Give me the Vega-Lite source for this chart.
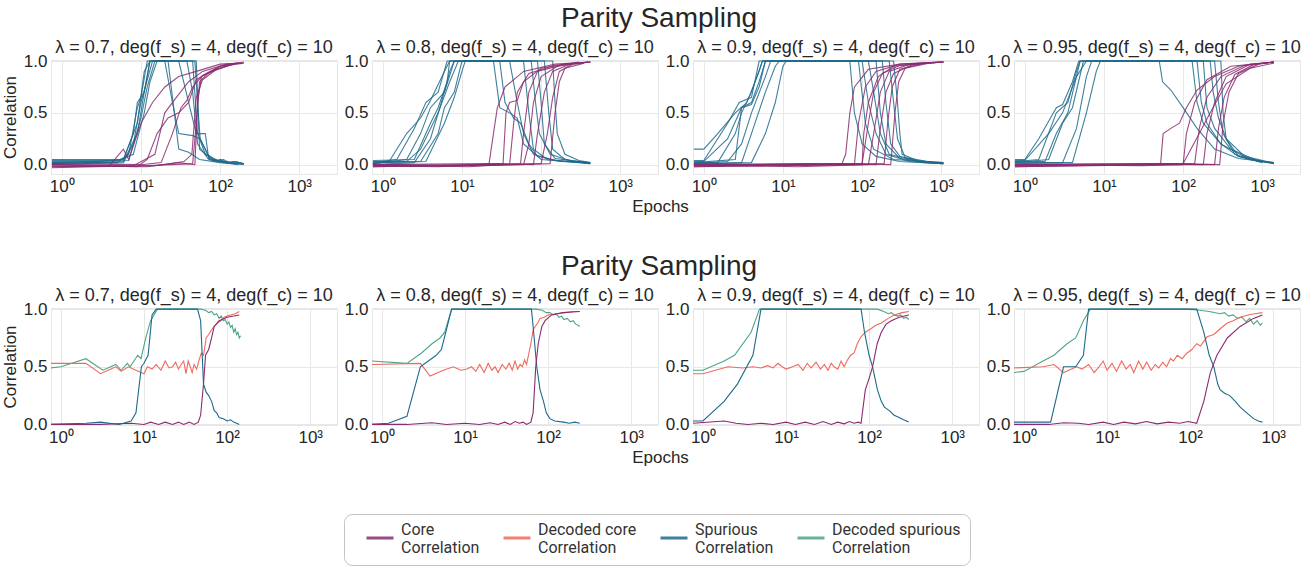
{
"$schema": "https://vega.github.io/schema/vega-lite/v6.json",
"padding": {"left": 0, "top": 4, "right": 5, "bottom": 0},
"background": "white",
"datasets": {
"t07": [
{"s":"Spurious","r":1,"x":0.75,"y":0.03},{"s":"Spurious","r":1,"x":3,"y":0.03},{"s":"Spurious","r":1,"x":6,"y":0.05},{"s":"Spurious","r":1,"x":8,"y":0.3},{"s":"Spurious","r":1,"x":9,"y":0.6},{"s":"Spurious","r":1,"x":11,"y":0.7},{"s":"Spurious","r":1,"x":13,"y":1.0},{"s":"Spurious","r":1,"x":45,"y":1.0},{"s":"Spurious","r":1,"x":52,"y":0.3},{"s":"Spurious","r":1,"x":60,"y":0.2},{"s":"Spurious","r":1,"x":75,"y":0.05},{"s":"Spurious","r":1,"x":90,"y":0.03},{"s":"Spurious","r":1,"x":100,"y":0.05},{"s":"Spurious","r":1,"x":120,"y":0.02},{"s":"Spurious","r":1,"x":150,"y":0.03},{"s":"Spurious","r":1,"x":200,"y":0.01},
{"s":"Spurious","r":2,"x":0.75,"y":0.02},{"s":"Spurious","r":2,"x":5,"y":0.02},{"s":"Spurious","r":2,"x":7,"y":0.1},{"s":"Spurious","r":2,"x":9,"y":0.55},{"s":"Spurious","r":2,"x":10,"y":0.65},{"s":"Spurious","r":2,"x":12,"y":1.0},{"s":"Spurious","r":2,"x":48,"y":1.0},{"s":"Spurious","r":2,"x":53,"y":0.5},{"s":"Spurious","r":2,"x":56,"y":0.25},{"s":"Spurious","r":2,"x":70,"y":0.1},{"s":"Spurious","r":2,"x":80,"y":0.06},{"s":"Spurious","r":2,"x":90,"y":0.04},{"s":"Spurious","r":2,"x":110,"y":0.05},{"s":"Spurious","r":2,"x":130,"y":0.02},{"s":"Spurious","r":2,"x":160,"y":0.03},{"s":"Spurious","r":2,"x":190,"y":0.01},
{"s":"Spurious","r":3,"x":0.75,"y":0.0},{"s":"Spurious","r":3,"x":6,"y":0.02},{"s":"Spurious","r":3,"x":8,"y":0.2},{"s":"Spurious","r":3,"x":10,"y":0.6},{"s":"Spurious","r":3,"x":14,"y":1.0},{"s":"Spurious","r":3,"x":20,"y":1.0},{"s":"Spurious","r":3,"x":25,"y":0.6},{"s":"Spurious","r":3,"x":30,"y":0.3},{"s":"Spurious","r":3,"x":45,"y":0.28},{"s":"Spurious","r":3,"x":55,"y":0.25},{"s":"Spurious","r":3,"x":65,"y":0.1},{"s":"Spurious","r":3,"x":100,"y":0.03},{"s":"Spurious","r":3,"x":180,"y":0.01},
{"s":"Spurious","r":4,"x":0.75,"y":0.04},{"s":"Spurious","r":4,"x":5,"y":0.04},{"s":"Spurious","r":4,"x":8,"y":0.1},{"s":"Spurious","r":4,"x":11,"y":0.5},{"s":"Spurious","r":4,"x":13,"y":0.8},{"s":"Spurious","r":4,"x":16,"y":1.0},{"s":"Spurious","r":4,"x":38,"y":1.0},{"s":"Spurious","r":4,"x":45,"y":0.7},{"s":"Spurious","r":4,"x":52,"y":0.2},{"s":"Spurious","r":4,"x":70,"y":0.06},{"s":"Spurious","r":4,"x":120,"y":0.02},{"s":"Spurious","r":4,"x":200,"y":0.0},
{"s":"Spurious","r":5,"x":0.75,"y":0.01},{"s":"Spurious","r":5,"x":6,"y":0.03},{"s":"Spurious","r":5,"x":9,"y":0.3},{"s":"Spurious","r":5,"x":11,"y":0.7},{"s":"Spurious","r":5,"x":13,"y":1.0},{"s":"Spurious","r":5,"x":22,"y":1.0},{"s":"Spurious","r":5,"x":30,"y":0.15},{"s":"Spurious","r":5,"x":40,"y":0.12},{"s":"Spurious","r":5,"x":55,"y":0.05},{"s":"Spurious","r":5,"x":100,"y":0.02},{"s":"Spurious","r":5,"x":160,"y":0.01},
{"s":"Spurious","r":6,"x":0.75,"y":0.02},{"s":"Spurious","r":6,"x":7,"y":0.04},{"s":"Spurious","r":6,"x":10,"y":0.45},{"s":"Spurious","r":6,"x":12,"y":0.75},{"s":"Spurious","r":6,"x":15,"y":1.0},{"s":"Spurious","r":6,"x":30,"y":1.0},{"s":"Spurious","r":6,"x":40,"y":0.6},{"s":"Spurious","r":6,"x":50,"y":0.3},{"s":"Spurious","r":6,"x":65,"y":0.3},{"s":"Spurious","r":6,"x":72,"y":0.05},{"s":"Spurious","r":6,"x":110,"y":0.02},{"s":"Spurious","r":6,"x":170,"y":0.0},
{"s":"Spurious","r":7,"x":0.75,"y":0.05},{"s":"Spurious","r":7,"x":6,"y":0.05},{"s":"Spurious","r":7,"x":9,"y":0.4},{"s":"Spurious","r":7,"x":11,"y":0.9},{"s":"Spurious","r":7,"x":13,"y":1.0},{"s":"Spurious","r":7,"x":50,"y":1.0},{"s":"Spurious","r":7,"x":55,"y":0.15},{"s":"Spurious","r":7,"x":80,"y":0.05},{"s":"Spurious","r":7,"x":140,"y":0.02},{"s":"Spurious","r":7,"x":200,"y":0.01},
{"s":"Core","r":1,"x":0.75,"y":-0.02},{"s":"Core","r":1,"x":4,"y":-0.01},{"s":"Core","r":1,"x":6,"y":0.15},{"s":"Core","r":1,"x":7,"y":0.05},{"s":"Core","r":1,"x":10,"y":0.4},{"s":"Core","r":1,"x":14,"y":0.6},{"s":"Core","r":1,"x":20,"y":0.75},{"s":"Core","r":1,"x":30,"y":0.85},{"s":"Core","r":1,"x":50,"y":0.9},{"s":"Core","r":1,"x":100,"y":0.97},{"s":"Core","r":1,"x":190,"y":0.98},
{"s":"Core","r":2,"x":0.75,"y":0.0},{"s":"Core","r":2,"x":8,"y":-0.01},{"s":"Core","r":2,"x":15,"y":0.1},{"s":"Core","r":2,"x":20,"y":0.5},{"s":"Core","r":2,"x":28,"y":0.65},{"s":"Core","r":2,"x":40,"y":0.8},{"s":"Core","r":2,"x":60,"y":0.9},{"s":"Core","r":2,"x":120,"y":0.97},{"s":"Core","r":2,"x":180,"y":0.98},
{"s":"Core","r":3,"x":0.75,"y":-0.03},{"s":"Core","r":3,"x":10,"y":-0.01},{"s":"Core","r":3,"x":25,"y":0.0},{"s":"Core","r":3,"x":45,"y":0.01},{"s":"Core","r":3,"x":50,"y":0.4},{"s":"Core","r":3,"x":55,"y":0.8},{"s":"Core","r":3,"x":70,"y":0.88},{"s":"Core","r":3,"x":100,"y":0.95},{"s":"Core","r":3,"x":170,"y":0.98},
{"s":"Core","r":4,"x":0.75,"y":-0.01},{"s":"Core","r":4,"x":12,"y":-0.02},{"s":"Core","r":4,"x":30,"y":0.02},{"s":"Core","r":4,"x":48,"y":0.0},{"s":"Core","r":4,"x":52,"y":0.6},{"s":"Core","r":4,"x":58,"y":0.85},{"s":"Core","r":4,"x":80,"y":0.9},{"s":"Core","r":4,"x":130,"y":0.96},{"s":"Core","r":4,"x":200,"y":0.98},
{"s":"Core","r":5,"x":0.75,"y":0.01},{"s":"Core","r":5,"x":10,"y":0.0},{"s":"Core","r":5,"x":18,"y":0.02},{"s":"Core","r":5,"x":25,"y":0.3},{"s":"Core","r":5,"x":32,"y":0.55},{"s":"Core","r":5,"x":38,"y":0.62},{"s":"Core","r":5,"x":45,"y":0.75},{"s":"Core","r":5,"x":60,"y":0.86},{"s":"Core","r":5,"x":100,"y":0.95},{"s":"Core","r":5,"x":160,"y":0.98},
{"s":"Core","r":6,"x":0.75,"y":-0.02},{"s":"Core","r":6,"x":15,"y":-0.01},{"s":"Core","r":6,"x":35,"y":0.03},{"s":"Core","r":6,"x":44,"y":0.1},{"s":"Core","r":6,"x":50,"y":0.65},{"s":"Core","r":6,"x":60,"y":0.82},{"s":"Core","r":6,"x":90,"y":0.92},{"s":"Core","r":6,"x":150,"y":0.97},
{"s":"Core","r":7,"x":0.75,"y":0.0},{"s":"Core","r":7,"x":9,"y":-0.02},{"s":"Core","r":7,"x":12,"y":0.05},{"s":"Core","r":7,"x":16,"y":0.3},{"s":"Core","r":7,"x":22,"y":0.45},{"s":"Core","r":7,"x":30,"y":0.5},{"s":"Core","r":7,"x":40,"y":0.6},{"s":"Core","r":7,"x":50,"y":0.82},{"s":"Core","r":7,"x":75,"y":0.9},{"s":"Core","r":7,"x":140,"y":0.97},{"s":"Core","r":7,"x":200,"y":0.99}
],
"t08": [
{"s":"Spurious","r":1,"x":0.75,"y":0.02},{"s":"Spurious","r":1,"x":1.5,"y":0.05},{"s":"Spurious","r":1,"x":2.5,"y":0.35},{"s":"Spurious","r":1,"x":3.5,"y":0.6},{"s":"Spurious","r":1,"x":5,"y":0.7},{"s":"Spurious","r":1,"x":6.5,"y":1.0},{"s":"Spurious","r":1,"x":25,"y":1.0},{"s":"Spurious","r":1,"x":30,"y":0.55},{"s":"Spurious","r":1,"x":40,"y":0.5},{"s":"Spurious","r":1,"x":50,"y":0.45},{"s":"Spurious","r":1,"x":60,"y":0.2},{"s":"Spurious","r":1,"x":100,"y":0.05},{"s":"Spurious","r":1,"x":200,"y":0.03},{"s":"Spurious","r":1,"x":420,"y":0.02},
{"s":"Spurious","r":2,"x":0.75,"y":0.01},{"s":"Spurious","r":2,"x":2,"y":0.05},{"s":"Spurious","r":2,"x":3,"y":0.3},{"s":"Spurious","r":2,"x":4,"y":0.55},{"s":"Spurious","r":2,"x":6,"y":0.7},{"s":"Spurious","r":2,"x":8,"y":1.0},{"s":"Spurious","r":2,"x":60,"y":1.0},{"s":"Spurious","r":2,"x":70,"y":0.5},{"s":"Spurious","r":2,"x":80,"y":0.15},{"s":"Spurious","r":2,"x":120,"y":0.05},{"s":"Spurious","r":2,"x":300,"y":0.02},{"s":"Spurious","r":2,"x":420,"y":0.01},
{"s":"Spurious","r":3,"x":0.75,"y":0.03},{"s":"Spurious","r":3,"x":2,"y":0.03},{"s":"Spurious","r":3,"x":3,"y":0.15},{"s":"Spurious","r":3,"x":5,"y":0.5},{"s":"Spurious","r":3,"x":7,"y":0.8},{"s":"Spurious","r":3,"x":9,"y":1.0},{"s":"Spurious","r":3,"x":90,"y":1.0},{"s":"Spurious","r":3,"x":100,"y":0.6},{"s":"Spurious","r":3,"x":110,"y":0.2},{"s":"Spurious","r":3,"x":150,"y":0.06},{"s":"Spurious","r":3,"x":400,"y":0.02},
{"s":"Spurious","r":4,"x":0.75,"y":0.0},{"s":"Spurious","r":4,"x":2.5,"y":0.02},{"s":"Spurious","r":4,"x":4,"y":0.25},{"s":"Spurious","r":4,"x":5.5,"y":0.6},{"s":"Spurious","r":4,"x":7,"y":0.9},{"s":"Spurious","r":4,"x":8,"y":1.0},{"s":"Spurious","r":4,"x":110,"y":1.0},{"s":"Spurious","r":4,"x":125,"y":0.5},{"s":"Spurious","r":4,"x":140,"y":0.15},{"s":"Spurious","r":4,"x":200,"y":0.05},{"s":"Spurious","r":4,"x":420,"y":0.01},
{"s":"Spurious","r":5,"x":0.75,"y":0.02},{"s":"Spurious","r":5,"x":3,"y":0.03},{"s":"Spurious","r":5,"x":5,"y":0.3},{"s":"Spurious","r":5,"x":6,"y":0.55},{"s":"Spurious","r":5,"x":8,"y":0.7},{"s":"Spurious","r":5,"x":10,"y":1.0},{"s":"Spurious","r":5,"x":40,"y":1.0},{"s":"Spurious","r":5,"x":50,"y":0.6},{"s":"Spurious","r":5,"x":60,"y":0.3},{"s":"Spurious","r":5,"x":80,"y":0.1},{"s":"Spurious","r":5,"x":150,"y":0.04},{"s":"Spurious","r":5,"x":400,"y":0.02},
{"s":"Spurious","r":6,"x":0.75,"y":0.01},{"s":"Spurious","r":6,"x":1.2,"y":0.03},{"s":"Spurious","r":6,"x":2,"y":0.3},{"s":"Spurious","r":6,"x":3,"y":0.45},{"s":"Spurious","r":6,"x":4,"y":0.62},{"s":"Spurious","r":6,"x":6,"y":0.9},{"s":"Spurious","r":6,"x":7,"y":1.0},{"s":"Spurious","r":6,"x":140,"y":1.0},{"s":"Spurious","r":6,"x":150,"y":0.6},{"s":"Spurious","r":6,"x":160,"y":0.3},{"s":"Spurious","r":6,"x":200,"y":0.1},{"s":"Spurious","r":6,"x":300,"y":0.04},{"s":"Spurious","r":6,"x":420,"y":0.02},
{"s":"Spurious","r":7,"x":0.75,"y":0.02},{"s":"Spurious","r":7,"x":3.5,"y":0.03},{"s":"Spurious","r":7,"x":6,"y":0.4},{"s":"Spurious","r":7,"x":8,"y":0.65},{"s":"Spurious","r":7,"x":10,"y":0.9},{"s":"Spurious","r":7,"x":11,"y":1.0},{"s":"Spurious","r":7,"x":75,"y":1.0},{"s":"Spurious","r":7,"x":85,"y":0.6},{"s":"Spurious","r":7,"x":95,"y":0.3},{"s":"Spurious","r":7,"x":130,"y":0.1},{"s":"Spurious","r":7,"x":250,"y":0.03},{"s":"Spurious","r":7,"x":400,"y":0.01},
{"s":"Spurious","r":8,"x":0.75,"y":0.04},{"s":"Spurious","r":8,"x":2.5,"y":0.05},{"s":"Spurious","r":8,"x":4,"y":0.4},{"s":"Spurious","r":8,"x":5,"y":0.55},{"s":"Spurious","r":8,"x":6.5,"y":0.8},{"s":"Spurious","r":8,"x":7,"y":1.0},{"s":"Spurious","r":8,"x":30,"y":1.0},{"s":"Spurious","r":8,"x":35,"y":0.6},{"s":"Spurious","r":8,"x":45,"y":0.45},{"s":"Spurious","r":8,"x":55,"y":0.4},{"s":"Spurious","r":8,"x":70,"y":0.2},{"s":"Spurious","r":8,"x":90,"y":0.08},{"s":"Spurious","r":8,"x":180,"y":0.03},{"s":"Spurious","r":8,"x":380,"y":0.02},
{"s":"Core","r":1,"x":0.75,"y":-0.01},{"s":"Core","r":1,"x":5,"y":-0.02},{"s":"Core","r":1,"x":15,"y":0.0},{"s":"Core","r":1,"x":22,"y":0.01},{"s":"Core","r":1,"x":25,"y":0.3},{"s":"Core","r":1,"x":28,"y":0.55},{"s":"Core","r":1,"x":35,"y":0.75},{"s":"Core","r":1,"x":60,"y":0.9},{"s":"Core","r":1,"x":150,"y":0.97},{"s":"Core","r":1,"x":420,"y":0.99},
{"s":"Core","r":2,"x":0.75,"y":0.0},{"s":"Core","r":2,"x":10,"y":-0.01},{"s":"Core","r":2,"x":30,"y":0.01},{"s":"Core","r":2,"x":40,"y":0.0},{"s":"Core","r":2,"x":45,"y":0.4},{"s":"Core","r":2,"x":50,"y":0.7},{"s":"Core","r":2,"x":70,"y":0.88},{"s":"Core","r":2,"x":150,"y":0.96},{"s":"Core","r":2,"x":400,"y":0.99},
{"s":"Core","r":3,"x":0.75,"y":-0.02},{"s":"Core","r":3,"x":20,"y":0.0},{"s":"Core","r":3,"x":55,"y":0.01},{"s":"Core","r":3,"x":60,"y":0.3},{"s":"Core","r":3,"x":70,"y":0.7},{"s":"Core","r":3,"x":90,"y":0.9},{"s":"Core","r":3,"x":200,"y":0.97},{"s":"Core","r":3,"x":420,"y":0.99},
{"s":"Core","r":4,"x":0.75,"y":-0.01},{"s":"Core","r":4,"x":15,"y":-0.01},{"s":"Core","r":4,"x":60,"y":0.0},{"s":"Core","r":4,"x":70,"y":0.2},{"s":"Core","r":4,"x":80,"y":0.6},{"s":"Core","r":4,"x":100,"y":0.85},{"s":"Core","r":4,"x":160,"y":0.95},{"s":"Core","r":4,"x":400,"y":0.99},
{"s":"Core","r":5,"x":0.75,"y":0.0},{"s":"Core","r":5,"x":25,"y":0.01},{"s":"Core","r":5,"x":80,"y":0.0},{"s":"Core","r":5,"x":90,"y":0.3},{"s":"Core","r":5,"x":110,"y":0.7},{"s":"Core","r":5,"x":140,"y":0.9},{"s":"Core","r":5,"x":250,"y":0.98},
{"s":"Core","r":6,"x":0.75,"y":-0.01},{"s":"Core","r":6,"x":30,"y":0.0},{"s":"Core","r":6,"x":100,"y":0.01},{"s":"Core","r":6,"x":120,"y":0.3},{"s":"Core","r":6,"x":140,"y":0.65},{"s":"Core","r":6,"x":170,"y":0.9},{"s":"Core","r":6,"x":250,"y":0.97},{"s":"Core","r":6,"x":420,"y":0.99},
{"s":"Core","r":7,"x":0.75,"y":0.0},{"s":"Core","r":7,"x":12,"y":-0.02},{"s":"Core","r":7,"x":33,"y":0.0},{"s":"Core","r":7,"x":36,"y":0.5},{"s":"Core","r":7,"x":40,"y":0.6},{"s":"Core","r":7,"x":50,"y":0.62},{"s":"Core","r":7,"x":60,"y":0.8},{"s":"Core","r":7,"x":100,"y":0.93},{"s":"Core","r":7,"x":300,"y":0.99},
{"s":"Core","r":8,"x":0.75,"y":-0.02},{"s":"Core","r":8,"x":40,"y":0.0},{"s":"Core","r":8,"x":130,"y":0.01},{"s":"Core","r":8,"x":150,"y":0.5},{"s":"Core","r":8,"x":170,"y":0.8},{"s":"Core","r":8,"x":200,"y":0.93},{"s":"Core","r":8,"x":350,"y":0.98}
],
"t09": [
{"s":"Spurious","r":1,"x":0.75,"y":0.15},{"s":"Spurious","r":1,"x":1,"y":0.15},{"s":"Spurious","r":1,"x":1.5,"y":0.3},{"s":"Spurious","r":1,"x":2.5,"y":0.5},{"s":"Spurious","r":1,"x":3.5,"y":0.6},{"s":"Spurious","r":1,"x":5,"y":0.9},{"s":"Spurious","r":1,"x":5.5,"y":1.0},{"s":"Spurious","r":1,"x":70,"y":1.0},{"s":"Spurious","r":1,"x":80,"y":0.5},{"s":"Spurious","r":1,"x":100,"y":0.2},{"s":"Spurious","r":1,"x":150,"y":0.08},{"s":"Spurious","r":1,"x":300,"y":0.03},{"s":"Spurious","r":1,"x":1070,"y":0.01},
{"s":"Spurious","r":2,"x":0.75,"y":0.03},{"s":"Spurious","r":2,"x":1,"y":0.03},{"s":"Spurious","r":2,"x":2,"y":0.25},{"s":"Spurious","r":2,"x":3,"y":0.55},{"s":"Spurious","r":2,"x":4,"y":0.6},{"s":"Spurious","r":2,"x":5,"y":0.8},{"s":"Spurious","r":2,"x":6,"y":1.0},{"s":"Spurious","r":2,"x":100,"y":1.0},{"s":"Spurious","r":2,"x":120,"y":0.6},{"s":"Spurious","r":2,"x":150,"y":0.3},{"s":"Spurious","r":2,"x":200,"y":0.1},{"s":"Spurious","r":2,"x":400,"y":0.03},{"s":"Spurious","r":2,"x":1000,"y":0.02},
{"s":"Spurious","r":3,"x":0.75,"y":0.02},{"s":"Spurious","r":3,"x":1.5,"y":0.02},{"s":"Spurious","r":3,"x":2.5,"y":0.3},{"s":"Spurious","r":3,"x":3,"y":0.5},{"s":"Spurious","r":3,"x":4,"y":0.7},{"s":"Spurious","r":3,"x":5.5,"y":1.0},{"s":"Spurious","r":3,"x":150,"y":1.0},{"s":"Spurious","r":3,"x":170,"y":0.5},{"s":"Spurious","r":3,"x":200,"y":0.2},{"s":"Spurious","r":3,"x":300,"y":0.06},{"s":"Spurious","r":3,"x":700,"y":0.02},{"s":"Spurious","r":3,"x":1070,"y":0.01},
{"s":"Spurious","r":4,"x":0.75,"y":0.01},{"s":"Spurious","r":4,"x":2,"y":0.03},{"s":"Spurious","r":4,"x":3,"y":0.2},{"s":"Spurious","r":4,"x":4,"y":0.5},{"s":"Spurious","r":4,"x":6,"y":0.85},{"s":"Spurious","r":4,"x":7,"y":1.0},{"s":"Spurious","r":4,"x":180,"y":1.0},{"s":"Spurious","r":4,"x":200,"y":0.6},{"s":"Spurious","r":4,"x":230,"y":0.2},{"s":"Spurious","r":4,"x":300,"y":0.08},{"s":"Spurious","r":4,"x":600,"y":0.02},{"s":"Spurious","r":4,"x":1050,"y":0.01},
{"s":"Spurious","r":5,"x":0.75,"y":0.04},{"s":"Spurious","r":5,"x":1,"y":0.04},{"s":"Spurious","r":5,"x":2,"y":0.4},{"s":"Spurious","r":5,"x":2.8,"y":0.6},{"s":"Spurious","r":5,"x":4,"y":0.65},{"s":"Spurious","r":5,"x":5,"y":1.0},{"s":"Spurious","r":5,"x":120,"y":1.0},{"s":"Spurious","r":5,"x":140,"y":0.7},{"s":"Spurious","r":5,"x":170,"y":0.3},{"s":"Spurious","r":5,"x":220,"y":0.1},{"s":"Spurious","r":5,"x":500,"y":0.03},{"s":"Spurious","r":5,"x":1070,"y":0.02},
{"s":"Spurious","r":6,"x":0.75,"y":0.0},{"s":"Spurious","r":6,"x":3,"y":0.02},{"s":"Spurious","r":6,"x":4,"y":0.3},{"s":"Spurious","r":6,"x":6,"y":0.7},{"s":"Spurious","r":6,"x":8,"y":0.95},{"s":"Spurious","r":6,"x":9,"y":1.0},{"s":"Spurious","r":6,"x":220,"y":1.0},{"s":"Spurious","r":6,"x":250,"y":0.6},{"s":"Spurious","r":6,"x":280,"y":0.25},{"s":"Spurious","r":6,"x":350,"y":0.07},{"s":"Spurious","r":6,"x":800,"y":0.02},
{"s":"Spurious","r":7,"x":0.75,"y":0.02},{"s":"Spurious","r":7,"x":2.5,"y":0.05},{"s":"Spurious","r":7,"x":3,"y":0.55},{"s":"Spurious","r":7,"x":4,"y":0.58},{"s":"Spurious","r":7,"x":5,"y":0.75},{"s":"Spurious","r":7,"x":6,"y":1.0},{"s":"Spurious","r":7,"x":250,"y":1.0},{"s":"Spurious","r":7,"x":280,"y":0.6},{"s":"Spurious","r":7,"x":300,"y":0.3},{"s":"Spurious","r":7,"x":320,"y":0.1},{"s":"Spurious","r":7,"x":500,"y":0.04},{"s":"Spurious","r":7,"x":1000,"y":0.01},
{"s":"Spurious","r":8,"x":0.75,"y":0.01},{"s":"Spurious","r":8,"x":4,"y":0.02},{"s":"Spurious","r":8,"x":6,"y":0.3},{"s":"Spurious","r":8,"x":8,"y":0.6},{"s":"Spurious","r":8,"x":10,"y":0.95},{"s":"Spurious","r":8,"x":11,"y":1.0},{"s":"Spurious","r":8,"x":90,"y":1.0},{"s":"Spurious","r":8,"x":110,"y":0.4},{"s":"Spurious","r":8,"x":140,"y":0.15},{"s":"Spurious","r":8,"x":250,"y":0.05},{"s":"Spurious","r":8,"x":1070,"y":0.02},
{"s":"Core","r":1,"x":0.75,"y":-0.02},{"s":"Core","r":1,"x":10,"y":-0.01},{"s":"Core","r":1,"x":55,"y":0.0},{"s":"Core","r":1,"x":62,"y":0.1},{"s":"Core","r":1,"x":70,"y":0.5},{"s":"Core","r":1,"x":80,"y":0.75},{"s":"Core","r":1,"x":120,"y":0.92},{"s":"Core","r":1,"x":300,"y":0.97},{"s":"Core","r":1,"x":1070,"y":0.99},
{"s":"Core","r":2,"x":0.75,"y":0.0},{"s":"Core","r":2,"x":20,"y":0.01},{"s":"Core","r":2,"x":80,"y":0.0},{"s":"Core","r":2,"x":90,"y":0.4},{"s":"Core","r":2,"x":110,"y":0.75},{"s":"Core","r":2,"x":150,"y":0.9},{"s":"Core","r":2,"x":300,"y":0.97},{"s":"Core","r":2,"x":1000,"y":0.99},
{"s":"Core","r":3,"x":0.75,"y":-0.01},{"s":"Core","r":3,"x":30,"y":0.0},{"s":"Core","r":3,"x":100,"y":0.01},{"s":"Core","r":3,"x":120,"y":0.4},{"s":"Core","r":3,"x":140,"y":0.7},{"s":"Core","r":3,"x":180,"y":0.88},{"s":"Core","r":3,"x":300,"y":0.96},{"s":"Core","r":3,"x":1070,"y":0.99},
{"s":"Core","r":4,"x":0.75,"y":0.0},{"s":"Core","r":4,"x":15,"y":-0.02},{"s":"Core","r":4,"x":120,"y":0.0},{"s":"Core","r":4,"x":140,"y":0.3},{"s":"Core","r":4,"x":170,"y":0.7},{"s":"Core","r":4,"x":220,"y":0.9},{"s":"Core","r":4,"x":400,"y":0.97},{"s":"Core","r":4,"x":900,"y":0.99},
{"s":"Core","r":5,"x":0.75,"y":-0.02},{"s":"Core","r":5,"x":40,"y":0.01},{"s":"Core","r":5,"x":150,"y":0.0},{"s":"Core","r":5,"x":170,"y":0.35},{"s":"Core","r":5,"x":200,"y":0.7},{"s":"Core","r":5,"x":250,"y":0.88},{"s":"Core","r":5,"x":450,"y":0.97},{"s":"Core","r":5,"x":1070,"y":0.99},
{"s":"Core","r":6,"x":0.75,"y":0.0},{"s":"Core","r":6,"x":60,"y":0.0},{"s":"Core","r":6,"x":190,"y":0.01},{"s":"Core","r":6,"x":210,"y":0.4},{"s":"Core","r":6,"x":240,"y":0.75},{"s":"Core","r":6,"x":300,"y":0.92},{"s":"Core","r":6,"x":600,"y":0.98},
{"s":"Core","r":7,"x":0.75,"y":-0.01},{"s":"Core","r":7,"x":50,"y":0.0},{"s":"Core","r":7,"x":100,"y":0.0},{"s":"Core","r":7,"x":105,"y":0.3},{"s":"Core","r":7,"x":120,"y":0.6},{"s":"Core","r":7,"x":160,"y":0.85},{"s":"Core","r":7,"x":250,"y":0.95},{"s":"Core","r":7,"x":1000,"y":0.99},
{"s":"Core","r":8,"x":0.75,"y":0.0},{"s":"Core","r":8,"x":70,"y":0.01},{"s":"Core","r":8,"x":230,"y":0.0},{"s":"Core","r":8,"x":260,"y":0.5},{"s":"Core","r":8,"x":290,"y":0.8},{"s":"Core","r":8,"x":350,"y":0.93},{"s":"Core","r":8,"x":700,"y":0.98},{"s":"Core","r":8,"x":1070,"y":0.99}
],
"t095": [
{"s":"Spurious","r":1,"x":0.75,"y":0.05},{"s":"Spurious","r":1,"x":1,"y":0.05},{"s":"Spurious","r":1,"x":1.5,"y":0.25},{"s":"Spurious","r":1,"x":2.5,"y":0.55},{"s":"Spurious","r":1,"x":3,"y":0.58},{"s":"Spurious","r":1,"x":4,"y":0.8},{"s":"Spurious","r":1,"x":4.8,"y":1.0},{"s":"Spurious","r":1,"x":50,"y":1.0},{"s":"Spurious","r":1,"x":55,"y":0.8},{"s":"Spurious","r":1,"x":70,"y":0.72},{"s":"Spurious","r":1,"x":100,"y":0.55},{"s":"Spurious","r":1,"x":150,"y":0.35},{"s":"Spurious","r":1,"x":250,"y":0.15},{"s":"Spurious","r":1,"x":500,"y":0.06},{"s":"Spurious","r":1,"x":1400,"y":0.02},
{"s":"Spurious","r":2,"x":0.75,"y":0.03},{"s":"Spurious","r":2,"x":1.8,"y":0.03},{"s":"Spurious","r":2,"x":2.5,"y":0.3},{"s":"Spurious","r":2,"x":3.5,"y":0.5},{"s":"Spurious","r":2,"x":5,"y":1.0},{"s":"Spurious","r":2,"x":150,"y":1.0},{"s":"Spurious","r":2,"x":170,"y":0.6},{"s":"Spurious","r":2,"x":200,"y":0.4},{"s":"Spurious","r":2,"x":300,"y":0.2},{"s":"Spurious","r":2,"x":500,"y":0.08},{"s":"Spurious","r":2,"x":1000,"y":0.03},{"s":"Spurious","r":2,"x":1400,"y":0.02},
{"s":"Spurious","r":3,"x":0.75,"y":0.02},{"s":"Spurious","r":3,"x":2,"y":0.05},{"s":"Spurious","r":3,"x":3,"y":0.4},{"s":"Spurious","r":3,"x":4,"y":0.55},{"s":"Spurious","r":3,"x":5.5,"y":1.0},{"s":"Spurious","r":3,"x":180,"y":1.0},{"s":"Spurious","r":3,"x":200,"y":0.55},{"s":"Spurious","r":3,"x":250,"y":0.35},{"s":"Spurious","r":3,"x":400,"y":0.15},{"s":"Spurious","r":3,"x":800,"y":0.05},{"s":"Spurious","r":3,"x":1400,"y":0.01},
{"s":"Spurious","r":4,"x":0.75,"y":0.04},{"s":"Spurious","r":4,"x":1,"y":0.04},{"s":"Spurious","r":4,"x":2,"y":0.3},{"s":"Spurious","r":4,"x":3,"y":0.5},{"s":"Spurious","r":4,"x":4.5,"y":0.85},{"s":"Spurious","r":4,"x":6,"y":1.0},{"s":"Spurious","r":4,"x":250,"y":1.0},{"s":"Spurious","r":4,"x":280,"y":0.6},{"s":"Spurious","r":4,"x":320,"y":0.3},{"s":"Spurious","r":4,"x":450,"y":0.1},{"s":"Spurious","r":4,"x":900,"y":0.03},{"s":"Spurious","r":4,"x":1400,"y":0.02},
{"s":"Spurious","r":5,"x":0.75,"y":0.01},{"s":"Spurious","r":5,"x":3,"y":0.02},{"s":"Spurious","r":5,"x":4.5,"y":0.35},{"s":"Spurious","r":5,"x":6,"y":0.85},{"s":"Spurious","r":5,"x":7,"y":1.0},{"s":"Spurious","r":5,"x":220,"y":1.0},{"s":"Spurious","r":5,"x":240,"y":0.7},{"s":"Spurious","r":5,"x":280,"y":0.45},{"s":"Spurious","r":5,"x":350,"y":0.25},{"s":"Spurious","r":5,"x":600,"y":0.08},{"s":"Spurious","r":5,"x":1300,"y":0.02},
{"s":"Spurious","r":6,"x":0.75,"y":0.02},{"s":"Spurious","r":6,"x":4,"y":0.02},{"s":"Spurious","r":6,"x":6,"y":0.5},{"s":"Spurious","r":6,"x":8,"y":0.9},{"s":"Spurious","r":6,"x":9,"y":1.0},{"s":"Spurious","r":6,"x":300,"y":1.0},{"s":"Spurious","r":6,"x":320,"y":0.5},{"s":"Spurious","r":6,"x":350,"y":0.25},{"s":"Spurious","r":6,"x":500,"y":0.08},{"s":"Spurious","r":6,"x":1000,"y":0.02},
{"s":"Spurious","r":7,"x":0.75,"y":0.03},{"s":"Spurious","r":7,"x":1.5,"y":0.05},{"s":"Spurious","r":7,"x":2.5,"y":0.5},{"s":"Spurious","r":7,"x":3.5,"y":0.6},{"s":"Spurious","r":7,"x":4.5,"y":0.9},{"s":"Spurious","r":7,"x":5,"y":1.0},{"s":"Spurious","r":7,"x":130,"y":1.0},{"s":"Spurious","r":7,"x":150,"y":0.6},{"s":"Spurious","r":7,"x":180,"y":0.4},{"s":"Spurious","r":7,"x":300,"y":0.2},{"s":"Spurious","r":7,"x":700,"y":0.05},{"s":"Spurious","r":7,"x":1400,"y":0.01},
{"s":"Core","r":1,"x":0.75,"y":-0.02},{"s":"Core","r":1,"x":20,"y":0.0},{"s":"Core","r":1,"x":52,"y":0.01},{"s":"Core","r":1,"x":56,"y":0.3},{"s":"Core","r":1,"x":70,"y":0.35},{"s":"Core","r":1,"x":90,"y":0.4},{"s":"Core","r":1,"x":110,"y":0.55},{"s":"Core","r":1,"x":150,"y":0.72},{"s":"Core","r":1,"x":250,"y":0.85},{"s":"Core","r":1,"x":500,"y":0.95},{"s":"Core","r":1,"x":1400,"y":0.99},
{"s":"Core","r":2,"x":0.75,"y":0.0},{"s":"Core","r":2,"x":30,"y":-0.01},{"s":"Core","r":2,"x":100,"y":0.0},{"s":"Core","r":2,"x":110,"y":0.3},{"s":"Core","r":2,"x":140,"y":0.6},{"s":"Core","r":2,"x":200,"y":0.82},{"s":"Core","r":2,"x":400,"y":0.95},{"s":"Core","r":2,"x":1400,"y":0.99},
{"s":"Core","r":3,"x":0.75,"y":-0.01},{"s":"Core","r":3,"x":40,"y":0.0},{"s":"Core","r":3,"x":140,"y":0.01},{"s":"Core","r":3,"x":160,"y":0.35},{"s":"Core","r":3,"x":200,"y":0.65},{"s":"Core","r":3,"x":300,"y":0.85},{"s":"Core","r":3,"x":600,"y":0.96},{"s":"Core","r":3,"x":1400,"y":0.99},
{"s":"Core","r":4,"x":0.75,"y":0.0},{"s":"Core","r":4,"x":50,"y":0.01},{"s":"Core","r":4,"x":180,"y":0.0},{"s":"Core","r":4,"x":200,"y":0.3},{"s":"Core","r":4,"x":250,"y":0.6},{"s":"Core","r":4,"x":350,"y":0.85},{"s":"Core","r":4,"x":700,"y":0.97},{"s":"Core","r":4,"x":1400,"y":0.99},
{"s":"Core","r":5,"x":0.75,"y":-0.02},{"s":"Core","r":5,"x":60,"y":0.0},{"s":"Core","r":5,"x":250,"y":0.0},{"s":"Core","r":5,"x":280,"y":0.35},{"s":"Core","r":5,"x":330,"y":0.65},{"s":"Core","r":5,"x":450,"y":0.87},{"s":"Core","r":5,"x":800,"y":0.97},{"s":"Core","r":5,"x":1400,"y":0.99},
{"s":"Core","r":6,"x":0.75,"y":0.0},{"s":"Core","r":6,"x":80,"y":0.01},{"s":"Core","r":6,"x":290,"y":0.0},{"s":"Core","r":6,"x":320,"y":0.4},{"s":"Core","r":6,"x":380,"y":0.7},{"s":"Core","r":6,"x":500,"y":0.88},{"s":"Core","r":6,"x":900,"y":0.97},{"s":"Core","r":6,"x":1400,"y":0.99},
{"s":"Core","r":7,"x":0.75,"y":-0.01},{"s":"Core","r":7,"x":30,"y":0.0},{"s":"Core","r":7,"x":100,"y":0.01},{"s":"Core","r":7,"x":160,"y":0.3},{"s":"Core","r":7,"x":220,"y":0.5},{"s":"Core","r":7,"x":350,"y":0.78},{"s":"Core","r":7,"x":700,"y":0.93},{"s":"Core","r":7,"x":1400,"y":0.98}
],
"b07": [
{"s":"Decoded spurious","x":0.75,"y":0.49},{"s":"Decoded spurious","x":1,"y":0.5},{"s":"Decoded spurious","x":2,"y":0.57},{"s":"Decoded spurious","x":3.2,"y":0.47},{"s":"Decoded spurious","x":4.6,"y":0.52},{"s":"Decoded spurious","x":5.3,"y":0.47},{"s":"Decoded spurious","x":6.3,"y":0.53},{"s":"Decoded spurious","x":6.8,"y":0.5},{"s":"Decoded spurious","x":8.4,"y":0.6},{"s":"Decoded spurious","x":9.2,"y":0.57},{"s":"Decoded spurious","x":10.5,"y":0.75},{"s":"Decoded spurious","x":12,"y":0.9},{"s":"Decoded spurious","x":14.5,"y":1.0},{"s":"Decoded spurious","x":48,"y":1.0},{"s":"Decoded spurious","x":55,"y":0.99},{"s":"Decoded spurious","x":60,"y":0.97},{"s":"Decoded spurious","x":65,"y":0.98},{"s":"Decoded spurious","x":70,"y":0.95},{"s":"Decoded spurious","x":75,"y":0.96},{"s":"Decoded spurious","x":80,"y":0.92},{"s":"Decoded spurious","x":85,"y":0.94},{"s":"Decoded spurious","x":90,"y":0.9},{"s":"Decoded spurious","x":95,"y":0.91},{"s":"Decoded spurious","x":100,"y":0.87},{"s":"Decoded spurious","x":105,"y":0.89},{"s":"Decoded spurious","x":110,"y":0.84},{"s":"Decoded spurious","x":115,"y":0.86},{"s":"Decoded spurious","x":120,"y":0.8},{"s":"Decoded spurious","x":125,"y":0.83},{"s":"Decoded spurious","x":130,"y":0.78},{"s":"Decoded spurious","x":135,"y":0.8},{"s":"Decoded spurious","x":140,"y":0.75},{"s":"Decoded spurious","x":145,"y":0.77},
{"s":"Decoded core","x":0.75,"y":0.53},{"s":"Decoded core","x":2,"y":0.53},{"s":"Decoded core","x":3,"y":0.44},{"s":"Decoded core","x":4,"y":0.48},{"s":"Decoded core","x":4.6,"y":0.5},{"s":"Decoded core","x":5.3,"y":0.46},{"s":"Decoded core","x":6.5,"y":0.5},{"s":"Decoded core","x":8,"y":0.47},{"s":"Decoded core","x":10,"y":0.44},{"s":"Decoded core","x":11,"y":0.5},{"s":"Decoded core","x":12.5,"y":0.48},{"s":"Decoded core","x":14,"y":0.52},{"s":"Decoded core","x":16,"y":0.47},{"s":"Decoded core","x":18,"y":0.55},{"s":"Decoded core","x":20,"y":0.49},{"s":"Decoded core","x":22,"y":0.5},{"s":"Decoded core","x":24,"y":0.54},{"s":"Decoded core","x":26,"y":0.48},{"s":"Decoded core","x":28,"y":0.52},{"s":"Decoded core","x":30,"y":0.55},{"s":"Decoded core","x":32,"y":0.44},{"s":"Decoded core","x":34,"y":0.55},{"s":"Decoded core","x":36,"y":0.5},{"s":"Decoded core","x":38,"y":0.45},{"s":"Decoded core","x":40,"y":0.52},{"s":"Decoded core","x":43,"y":0.48},{"s":"Decoded core","x":46,"y":0.56},{"s":"Decoded core","x":49,"y":0.62},{"s":"Decoded core","x":52,"y":0.6},{"s":"Decoded core","x":56,"y":0.75},{"s":"Decoded core","x":60,"y":0.78},{"s":"Decoded core","x":65,"y":0.82},{"s":"Decoded core","x":70,"y":0.85},{"s":"Decoded core","x":77,"y":0.88},{"s":"Decoded core","x":85,"y":0.9},{"s":"Decoded core","x":92,"y":0.93},{"s":"Decoded core","x":100,"y":0.94},{"s":"Decoded core","x":110,"y":0.95},{"s":"Decoded core","x":125,"y":0.96},{"s":"Decoded core","x":140,"y":0.98},
{"s":"Spurious","x":0.75,"y":0.0},{"s":"Spurious","x":2,"y":0.01},{"s":"Spurious","x":3,"y":0.02},{"s":"Spurious","x":5,"y":0.0},{"s":"Spurious","x":7,"y":0.03},{"s":"Spurious","x":8,"y":0.1},{"s":"Spurious","x":9.3,"y":0.5},{"s":"Spurious","x":10,"y":0.53},{"s":"Spurious","x":11.2,"y":0.6},{"s":"Spurious","x":12.5,"y":0.95},{"s":"Spurious","x":14,"y":1.0},{"s":"Spurious","x":44,"y":1.0},{"s":"Spurious","x":48,"y":0.9},{"s":"Spurious","x":52,"y":0.35},{"s":"Spurious","x":56,"y":0.28},{"s":"Spurious","x":60,"y":0.25},{"s":"Spurious","x":65,"y":0.2},{"s":"Spurious","x":70,"y":0.12},{"s":"Spurious","x":75,"y":0.1},{"s":"Spurious","x":80,"y":0.06},{"s":"Spurious","x":90,"y":0.05},{"s":"Spurious","x":100,"y":0.03},{"s":"Spurious","x":110,"y":0.04},{"s":"Spurious","x":120,"y":0.02},{"s":"Spurious","x":130,"y":0.01},{"s":"Spurious","x":140,"y":0.0},
{"s":"Core","x":0.75,"y":0.0},{"s":"Core","x":3,"y":0.0},{"s":"Core","x":7,"y":0.01},{"s":"Core","x":10,"y":0.0},{"s":"Core","x":12,"y":0.02},{"s":"Core","x":15,"y":0.0},{"s":"Core","x":18,"y":0.02},{"s":"Core","x":22,"y":0.0},{"s":"Core","x":26,"y":0.02},{"s":"Core","x":30,"y":0.0},{"s":"Core","x":35,"y":0.02},{"s":"Core","x":40,"y":0.0},{"s":"Core","x":45,"y":0.02},{"s":"Core","x":48,"y":0.08},{"s":"Core","x":52,"y":0.35},{"s":"Core","x":55,"y":0.6},{"s":"Core","x":60,"y":0.65},{"s":"Core","x":65,"y":0.75},{"s":"Core","x":70,"y":0.85},{"s":"Core","x":80,"y":0.9},{"s":"Core","x":100,"y":0.93},{"s":"Core","x":120,"y":0.94},{"s":"Core","x":140,"y":0.95}
],
"b08": [
{"s":"Decoded spurious","x":0.75,"y":0.55},{"s":"Decoded spurious","x":2,"y":0.53},{"s":"Decoded spurious","x":3,"y":0.62},{"s":"Decoded spurious","x":4,"y":0.7},{"s":"Decoded spurious","x":5,"y":0.75},{"s":"Decoded spurious","x":5.7,"y":0.8},{"s":"Decoded spurious","x":6.9,"y":1.0},{"s":"Decoded spurious","x":73,"y":1.0},{"s":"Decoded spurious","x":85,"y":0.99},{"s":"Decoded spurious","x":95,"y":0.97},{"s":"Decoded spurious","x":105,"y":0.97},{"s":"Decoded spurious","x":115,"y":0.95},{"s":"Decoded spurious","x":125,"y":0.96},{"s":"Decoded spurious","x":135,"y":0.93},{"s":"Decoded spurious","x":145,"y":0.94},{"s":"Decoded spurious","x":155,"y":0.91},{"s":"Decoded spurious","x":170,"y":0.92},{"s":"Decoded spurious","x":185,"y":0.89},{"s":"Decoded spurious","x":200,"y":0.9},{"s":"Decoded spurious","x":215,"y":0.87},{"s":"Decoded spurious","x":230,"y":0.86},{"s":"Decoded spurious","x":240,"y":0.85},
{"s":"Decoded core","x":0.75,"y":0.52},{"s":"Decoded core","x":2.9,"y":0.53},{"s":"Decoded core","x":3.8,"y":0.42},{"s":"Decoded core","x":5.5,"y":0.47},{"s":"Decoded core","x":7.2,"y":0.5},{"s":"Decoded core","x":9,"y":0.47},{"s":"Decoded core","x":10.5,"y":0.48},{"s":"Decoded core","x":12,"y":0.5},{"s":"Decoded core","x":13.5,"y":0.46},{"s":"Decoded core","x":15,"y":0.52},{"s":"Decoded core","x":17,"y":0.45},{"s":"Decoded core","x":19,"y":0.53},{"s":"Decoded core","x":21,"y":0.47},{"s":"Decoded core","x":23,"y":0.5},{"s":"Decoded core","x":25,"y":0.45},{"s":"Decoded core","x":28,"y":0.52},{"s":"Decoded core","x":31,"y":0.48},{"s":"Decoded core","x":34,"y":0.53},{"s":"Decoded core","x":37,"y":0.47},{"s":"Decoded core","x":40,"y":0.55},{"s":"Decoded core","x":43,"y":0.48},{"s":"Decoded core","x":46,"y":0.52},{"s":"Decoded core","x":49,"y":0.5},{"s":"Decoded core","x":52,"y":0.56},{"s":"Decoded core","x":55,"y":0.52},{"s":"Decoded core","x":58,"y":0.6},{"s":"Decoded core","x":62,"y":0.7},{"s":"Decoded core","x":66,"y":0.82},{"s":"Decoded core","x":70,"y":0.85},{"s":"Decoded core","x":75,"y":0.88},{"s":"Decoded core","x":80,"y":0.92},{"s":"Decoded core","x":90,"y":0.93},{"s":"Decoded core","x":100,"y":0.95},{"s":"Decoded core","x":127,"y":0.96},{"s":"Decoded core","x":160,"y":0.97},{"s":"Decoded core","x":200,"y":0.98},{"s":"Decoded core","x":240,"y":0.98},
{"s":"Spurious","x":0.75,"y":0.0},{"s":"Spurious","x":1.2,"y":0.01},{"s":"Spurious","x":2,"y":0.07},{"s":"Spurious","x":2.9,"y":0.5},{"s":"Spurious","x":4.5,"y":0.6},{"s":"Spurious","x":5.2,"y":0.65},{"s":"Spurious","x":6.9,"y":1.0},{"s":"Spurious","x":63,"y":1.0},{"s":"Spurious","x":67,"y":0.8},{"s":"Spurious","x":73,"y":0.5},{"s":"Spurious","x":80,"y":0.3},{"s":"Spurious","x":88,"y":0.2},{"s":"Spurious","x":95,"y":0.1},{"s":"Spurious","x":105,"y":0.05},{"s":"Spurious","x":120,"y":0.03},{"s":"Spurious","x":153,"y":0.02},{"s":"Spurious","x":180,"y":0.01},{"s":"Spurious","x":210,"y":0.02},{"s":"Spurious","x":240,"y":0.01},
{"s":"Core","x":0.75,"y":0.0},{"s":"Core","x":2,"y":0.0},{"s":"Core","x":4,"y":0.015},{"s":"Core","x":6,"y":0.0},{"s":"Core","x":10,"y":0.01},{"s":"Core","x":15,"y":0.0},{"s":"Core","x":20,"y":0.015},{"s":"Core","x":25,"y":0.0},{"s":"Core","x":30,"y":0.02},{"s":"Core","x":35,"y":0.0},{"s":"Core","x":40,"y":0.025},{"s":"Core","x":45,"y":0.01},{"s":"Core","x":50,"y":0.02},{"s":"Core","x":55,"y":0.0},{"s":"Core","x":62,"y":0.02},{"s":"Core","x":66,"y":0.1},{"s":"Core","x":71,"y":0.5},{"s":"Core","x":76,"y":0.7},{"s":"Core","x":84,"y":0.85},{"s":"Core","x":92,"y":0.9},{"s":"Core","x":110,"y":0.95},{"s":"Core","x":150,"y":0.97},{"s":"Core","x":240,"y":0.98}
],
"b09": [
{"s":"Decoded spurious","x":0.75,"y":0.47},{"s":"Decoded spurious","x":1,"y":0.47},{"s":"Decoded spurious","x":1.8,"y":0.55},{"s":"Decoded spurious","x":2.4,"y":0.6},{"s":"Decoded spurious","x":3.8,"y":0.8},{"s":"Decoded spurious","x":4.8,"y":1.0},{"s":"Decoded spurious","x":126,"y":1.0},{"s":"Decoded spurious","x":150,"y":0.98},{"s":"Decoded spurious","x":170,"y":0.96},{"s":"Decoded spurious","x":185,"y":0.97},{"s":"Decoded spurious","x":200,"y":0.95},{"s":"Decoded spurious","x":220,"y":0.94},{"s":"Decoded spurious","x":240,"y":0.95},{"s":"Decoded spurious","x":260,"y":0.92},{"s":"Decoded spurious","x":280,"y":0.93},{"s":"Decoded spurious","x":300,"y":0.91},
{"s":"Decoded core","x":0.75,"y":0.44},{"s":"Decoded core","x":1,"y":0.44},{"s":"Decoded core","x":2,"y":0.5},{"s":"Decoded core","x":3,"y":0.49},{"s":"Decoded core","x":4,"y":0.5},{"s":"Decoded core","x":5,"y":0.49},{"s":"Decoded core","x":6,"y":0.51},{"s":"Decoded core","x":7,"y":0.49},{"s":"Decoded core","x":8,"y":0.53},{"s":"Decoded core","x":9,"y":0.5},{"s":"Decoded core","x":10,"y":0.48},{"s":"Decoded core","x":12,"y":0.5},{"s":"Decoded core","x":14,"y":0.52},{"s":"Decoded core","x":16,"y":0.47},{"s":"Decoded core","x":18,"y":0.53},{"s":"Decoded core","x":20,"y":0.49},{"s":"Decoded core","x":23,"y":0.54},{"s":"Decoded core","x":26,"y":0.48},{"s":"Decoded core","x":29,"y":0.52},{"s":"Decoded core","x":32,"y":0.47},{"s":"Decoded core","x":35,"y":0.53},{"s":"Decoded core","x":38,"y":0.5},{"s":"Decoded core","x":42,"y":0.48},{"s":"Decoded core","x":46,"y":0.55},{"s":"Decoded core","x":50,"y":0.5},{"s":"Decoded core","x":55,"y":0.56},{"s":"Decoded core","x":60,"y":0.6},{"s":"Decoded core","x":66,"y":0.62},{"s":"Decoded core","x":72,"y":0.7},{"s":"Decoded core","x":80,"y":0.76},{"s":"Decoded core","x":90,"y":0.8},{"s":"Decoded core","x":105,"y":0.83},{"s":"Decoded core","x":120,"y":0.86},{"s":"Decoded core","x":140,"y":0.88},{"s":"Decoded core","x":170,"y":0.92},{"s":"Decoded core","x":200,"y":0.95},{"s":"Decoded core","x":250,"y":0.97},{"s":"Decoded core","x":300,"y":0.98},
{"s":"Spurious","x":0.75,"y":0.03},{"s":"Spurious","x":1,"y":0.03},{"s":"Spurious","x":1.8,"y":0.2},{"s":"Spurious","x":2.6,"y":0.35},{"s":"Spurious","x":4,"y":0.6},{"s":"Spurious","x":5,"y":1.0},{"s":"Spurious","x":80,"y":1.0},{"s":"Spurious","x":88,"y":0.8},{"s":"Spurious","x":100,"y":0.6},{"s":"Spurious","x":110,"y":0.5},{"s":"Spurious","x":126,"y":0.3},{"s":"Spurious","x":140,"y":0.2},{"s":"Spurious","x":153,"y":0.15},{"s":"Spurious","x":175,"y":0.12},{"s":"Spurious","x":200,"y":0.08},{"s":"Spurious","x":230,"y":0.06},{"s":"Spurious","x":260,"y":0.04},{"s":"Spurious","x":300,"y":0.02},
{"s":"Core","x":0.75,"y":0.01},{"s":"Core","x":1.8,"y":0.03},{"s":"Core","x":2.5,"y":0.01},{"s":"Core","x":3.5,"y":0.0},{"s":"Core","x":5,"y":0.01},{"s":"Core","x":7,"y":0.0},{"s":"Core","x":10,"y":0.02},{"s":"Core","x":13,"y":0.0},{"s":"Core","x":17,"y":0.02},{"s":"Core","x":22,"y":0.0},{"s":"Core","x":28,"y":0.025},{"s":"Core","x":35,"y":0.0},{"s":"Core","x":42,"y":0.02},{"s":"Core","x":50,"y":0.005},{"s":"Core","x":58,"y":0.025},{"s":"Core","x":66,"y":0.01},{"s":"Core","x":74,"y":0.02},{"s":"Core","x":80,"y":0.01},{"s":"Core","x":90,"y":0.3},{"s":"Core","x":100,"y":0.4},{"s":"Core","x":110,"y":0.5},{"s":"Core","x":125,"y":0.7},{"s":"Core","x":140,"y":0.8},{"s":"Core","x":160,"y":0.87},{"s":"Core","x":185,"y":0.9},{"s":"Core","x":230,"y":0.93},{"s":"Core","x":300,"y":0.95}
],
"b095": [
{"s":"Decoded spurious","x":0.75,"y":0.45},{"s":"Decoded spurious","x":1,"y":0.46},{"s":"Decoded spurious","x":1.7,"y":0.55},{"s":"Decoded spurious","x":2.3,"y":0.6},{"s":"Decoded spurious","x":3.3,"y":0.7},{"s":"Decoded spurious","x":4.2,"y":0.75},{"s":"Decoded spurious","x":5.2,"y":0.9},{"s":"Decoded spurious","x":6.3,"y":1.0},{"s":"Decoded spurious","x":92,"y":1.0},{"s":"Decoded spurious","x":130,"y":0.99},{"s":"Decoded spurious","x":170,"y":0.98},{"s":"Decoded spurious","x":230,"y":0.96},{"s":"Decoded spurious","x":260,"y":0.97},{"s":"Decoded spurious","x":290,"y":0.94},{"s":"Decoded spurious","x":330,"y":0.95},{"s":"Decoded spurious","x":370,"y":0.92},{"s":"Decoded spurious","x":420,"y":0.93},{"s":"Decoded spurious","x":470,"y":0.89},{"s":"Decoded spurious","x":520,"y":0.92},{"s":"Decoded spurious","x":580,"y":0.87},{"s":"Decoded spurious","x":640,"y":0.9},{"s":"Decoded spurious","x":700,"y":0.86},{"s":"Decoded spurious","x":740,"y":0.88},
{"s":"Decoded core","x":0.75,"y":0.49},{"s":"Decoded core","x":1.7,"y":0.5},{"s":"Decoded core","x":2.3,"y":0.52},{"s":"Decoded core","x":3,"y":0.45},{"s":"Decoded core","x":4.3,"y":0.5},{"s":"Decoded core","x":5,"y":0.48},{"s":"Decoded core","x":6,"y":0.52},{"s":"Decoded core","x":7,"y":0.45},{"s":"Decoded core","x":8,"y":0.5},{"s":"Decoded core","x":9,"y":0.55},{"s":"Decoded core","x":10,"y":0.47},{"s":"Decoded core","x":11.5,"y":0.53},{"s":"Decoded core","x":13,"y":0.46},{"s":"Decoded core","x":15,"y":0.55},{"s":"Decoded core","x":17,"y":0.48},{"s":"Decoded core","x":19,"y":0.52},{"s":"Decoded core","x":21,"y":0.45},{"s":"Decoded core","x":24,"y":0.55},{"s":"Decoded core","x":27,"y":0.48},{"s":"Decoded core","x":30,"y":0.54},{"s":"Decoded core","x":34,"y":0.47},{"s":"Decoded core","x":38,"y":0.52},{"s":"Decoded core","x":42,"y":0.49},{"s":"Decoded core","x":47,"y":0.54},{"s":"Decoded core","x":52,"y":0.5},{"s":"Decoded core","x":58,"y":0.57},{"s":"Decoded core","x":63,"y":0.55},{"s":"Decoded core","x":70,"y":0.6},{"s":"Decoded core","x":80,"y":0.57},{"s":"Decoded core","x":92,"y":0.62},{"s":"Decoded core","x":105,"y":0.65},{"s":"Decoded core","x":120,"y":0.7},{"s":"Decoded core","x":133,"y":0.68},{"s":"Decoded core","x":160,"y":0.76},{"s":"Decoded core","x":193,"y":0.78},{"s":"Decoded core","x":230,"y":0.83},{"s":"Decoded core","x":280,"y":0.88},{"s":"Decoded core","x":330,"y":0.9},{"s":"Decoded core","x":400,"y":0.93},{"s":"Decoded core","x":500,"y":0.95},{"s":"Decoded core","x":600,"y":0.96},{"s":"Decoded core","x":740,"y":0.97},
{"s":"Spurious","x":0.75,"y":0.02},{"s":"Spurious","x":2.1,"y":0.02},{"s":"Spurious","x":3,"y":0.5},{"s":"Spurious","x":4.2,"y":0.5},{"s":"Spurious","x":5.2,"y":0.6},{"s":"Spurious","x":6,"y":1.0},{"s":"Spurious","x":120,"y":1.0},{"s":"Spurious","x":146,"y":0.8},{"s":"Spurious","x":170,"y":0.6},{"s":"Spurious","x":193,"y":0.5},{"s":"Spurious","x":215,"y":0.35},{"s":"Spurious","x":230,"y":0.3},{"s":"Spurious","x":260,"y":0.27},{"s":"Spurious","x":300,"y":0.25},{"s":"Spurious","x":350,"y":0.2},{"s":"Spurious","x":400,"y":0.15},{"s":"Spurious","x":480,"y":0.1},{"s":"Spurious","x":580,"y":0.05},{"s":"Spurious","x":660,"y":0.03},{"s":"Spurious","x":740,"y":0.02},
{"s":"Core","x":0.75,"y":0.0},{"s":"Core","x":2,"y":0.0},{"s":"Core","x":3,"y":0.015},{"s":"Core","x":4.5,"y":0.01},{"s":"Core","x":6,"y":0.0},{"s":"Core","x":9,"y":0.02},{"s":"Core","x":12,"y":0.0},{"s":"Core","x":16,"y":0.02},{"s":"Core","x":22,"y":0.005},{"s":"Core","x":30,"y":0.025},{"s":"Core","x":40,"y":0.005},{"s":"Core","x":55,"y":0.02},{"s":"Core","x":75,"y":0.01},{"s":"Core","x":95,"y":0.025},{"s":"Core","x":120,"y":0.01},{"s":"Core","x":146,"y":0.2},{"s":"Core","x":175,"y":0.45},{"s":"Core","x":210,"y":0.6},{"s":"Core","x":280,"y":0.75},{"s":"Core","x":400,"y":0.85},{"s":"Core","x":580,"y":0.92},{"s":"Core","x":740,"y":0.95}
]
},
"vconcat": [
{
"title": {"text": "Parity Sampling", "fontSize": 28, "anchor": "middle", "offset": 6, "dx": 8},
"bounds": "flush",
"spacing": 35,
"hconcat": [
{"data": {"name": "t07"}, "title": "λ = 0.7, deg(f_s) = 4, deg(f_c) = 10", "width": 286, "height": 114,
 "mark": {"type": "line", "opacity": 0.85, "clip": true},
 "encoding": {
  "x": {"field": "x", "type": "quantitative", "scale": {"type": "log", "domain": [0.73, 3000], "nice": false}, "axis": {"values": [1, 10, 100, 1000], "labelExpr": "datum.value == 1 ? '10⁰' : datum.value == 10 ? '10¹' : datum.value == 100 ? '10²' : '10³'", "title": null}},
  "y": {"field": "y", "type": "quantitative", "scale": {"domain": [-0.09, 1.01], "nice": false, "zero": false}, "axis": {"values": [0, 0.5, 1], "format": ".1f", "title": "Correlation"}},
  "color": {"field": "s", "type": "nominal", "scale": {"domain": ["Core", "Decoded core", "Spurious", "Decoded spurious"], "range": ["#8a2b70", "#ef6a5e", "#1d6a8b", "#4fa488"]}, "legend": {"orient": "none", "legendX": 293, "legendY": 454, "direction": "horizontal", "columns": 4, "title": null, "symbolType": "stroke", "symbolSize": 729, "symbolStrokeWidth": 3, "symbolOffset": 12, "labelExpr": "[datum.label, 'Correlation']", "labelFont": "Roboto", "labelFontSize": 16, "labelBaseline": "bottom", "labelColor": "#333333", "labelLimit": 300, "labelOffset": 6, "strokeColor": "#c4c4c4", "cornerRadius": 8, "padding": 9, "fillColor": "white", "columnPadding": 10}},
  "strokeWidth": {"value": 1.1},
  "detail": {"field": "r"}
 }},
{"data": {"name": "t08"}, "title": "λ = 0.8, deg(f_s) = 4, deg(f_c) = 10", "width": 286, "height": 114,
 "mark": {"type": "line", "opacity": 0.85, "clip": true},
 "encoding": {
  "x": {"field": "x", "type": "quantitative", "scale": {"type": "log", "domain": [0.73, 3000], "nice": false}, "axis": {"values": [1, 10, 100, 1000], "labelExpr": "datum.value == 1 ? '10⁰' : datum.value == 10 ? '10¹' : datum.value == 100 ? '10²' : '10³'", "title": "Epochs", "titleX": 288, "titleY": 32, "titleAlign": "center", "titleBaseline": "middle"}},
  "y": {"field": "y", "type": "quantitative", "scale": {"domain": [-0.09, 1.01], "nice": false, "zero": false}, "axis": {"values": [0, 0.5, 1], "format": ".1f", "title": null}},
  "color": {"field": "s", "type": "nominal", "scale": {"domain": ["Core", "Decoded core", "Spurious", "Decoded spurious"], "range": ["#8a2b70", "#ef6a5e", "#1d6a8b", "#4fa488"]}, "legend": {"orient": "none", "legendX": 293, "legendY": 454, "direction": "horizontal", "columns": 4, "title": null, "symbolType": "stroke", "symbolSize": 729, "symbolStrokeWidth": 3, "symbolOffset": 12, "labelExpr": "[datum.label, 'Correlation']", "labelFont": "Roboto", "labelFontSize": 16, "labelBaseline": "bottom", "labelColor": "#333333", "labelLimit": 300, "labelOffset": 6, "strokeColor": "#c4c4c4", "cornerRadius": 8, "padding": 9, "fillColor": "white", "columnPadding": 10}},
  "strokeWidth": {"value": 1.1},
  "detail": {"field": "r"}
 }},
{"data": {"name": "t09"}, "title": "λ = 0.9, deg(f_s) = 4, deg(f_c) = 10", "width": 286, "height": 114,
 "mark": {"type": "line", "opacity": 0.85, "clip": true},
 "encoding": {
  "x": {"field": "x", "type": "quantitative", "scale": {"type": "log", "domain": [0.73, 3000], "nice": false}, "axis": {"values": [1, 10, 100, 1000], "labelExpr": "datum.value == 1 ? '10⁰' : datum.value == 10 ? '10¹' : datum.value == 100 ? '10²' : '10³'", "title": null}},
  "y": {"field": "y", "type": "quantitative", "scale": {"domain": [-0.09, 1.01], "nice": false, "zero": false}, "axis": {"values": [0, 0.5, 1], "format": ".1f", "title": null}},
  "color": {"field": "s", "type": "nominal", "scale": {"domain": ["Core", "Decoded core", "Spurious", "Decoded spurious"], "range": ["#8a2b70", "#ef6a5e", "#1d6a8b", "#4fa488"]}, "legend": {"orient": "none", "legendX": 293, "legendY": 454, "direction": "horizontal", "columns": 4, "title": null, "symbolType": "stroke", "symbolSize": 729, "symbolStrokeWidth": 3, "symbolOffset": 12, "labelExpr": "[datum.label, 'Correlation']", "labelFont": "Roboto", "labelFontSize": 16, "labelBaseline": "bottom", "labelColor": "#333333", "labelLimit": 300, "labelOffset": 6, "strokeColor": "#c4c4c4", "cornerRadius": 8, "padding": 9, "fillColor": "white", "columnPadding": 10}},
  "strokeWidth": {"value": 1.1},
  "detail": {"field": "r"}
 }},
{"data": {"name": "t095"}, "title": "λ = 0.95, deg(f_s) = 4, deg(f_c) = 10", "width": 286, "height": 114,
 "mark": {"type": "line", "opacity": 0.85, "clip": true},
 "encoding": {
  "x": {"field": "x", "type": "quantitative", "scale": {"type": "log", "domain": [0.73, 3000], "nice": false}, "axis": {"values": [1, 10, 100, 1000], "labelExpr": "datum.value == 1 ? '10⁰' : datum.value == 10 ? '10¹' : datum.value == 100 ? '10²' : '10³'", "title": null}},
  "y": {"field": "y", "type": "quantitative", "scale": {"domain": [-0.09, 1.01], "nice": false, "zero": false}, "axis": {"values": [0, 0.5, 1], "format": ".1f", "title": null}},
  "color": {"field": "s", "type": "nominal", "scale": {"domain": ["Core", "Decoded core", "Spurious", "Decoded spurious"], "range": ["#8a2b70", "#ef6a5e", "#1d6a8b", "#4fa488"]}, "legend": {"orient": "none", "legendX": 293, "legendY": 454, "direction": "horizontal", "columns": 4, "title": null, "symbolType": "stroke", "symbolSize": 729, "symbolStrokeWidth": 3, "symbolOffset": 12, "labelExpr": "[datum.label, 'Correlation']", "labelFont": "Roboto", "labelFontSize": 16, "labelBaseline": "bottom", "labelColor": "#333333", "labelLimit": 300, "labelOffset": 6, "strokeColor": "#c4c4c4", "cornerRadius": 8, "padding": 9, "fillColor": "white", "columnPadding": 10}},
  "strokeWidth": {"value": 1.1},
  "detail": {"field": "r"}
 }}
]
},
{
"title": {"text": "Parity Sampling", "fontSize": 28, "anchor": "middle", "offset": 6, "dx": 8},
"bounds": "flush",
"spacing": 35,
"hconcat": [
{"data": {"name": "b07"}, "title": "λ = 0.7, deg(f_s) = 4, deg(f_c) = 10", "width": 286, "height": 117,
 "mark": {"type": "line", "clip": true},
 "encoding": {
  "x": {"field": "x", "type": "quantitative", "scale": {"type": "log", "domain": [0.76, 2100], "nice": false}, "axis": {"values": [1, 10, 100, 1000], "labelExpr": "datum.value == 1 ? '10⁰' : datum.value == 10 ? '10¹' : datum.value == 100 ? '10²' : '10³'", "title": null}},
  "y": {"field": "y", "type": "quantitative", "scale": {"domain": [-0.005, 1.01], "nice": false, "zero": false}, "axis": {"values": [0, 0.5, 1], "format": ".1f", "title": "Correlation"}},
  "color": {"field": "s", "type": "nominal", "scale": {"domain": ["Core", "Decoded core", "Spurious", "Decoded spurious"], "range": ["#8a2b70", "#ef6a5e", "#1d6a8b", "#4fa488"]}, "legend": {"orient": "none", "legendX": 293, "legendY": 454, "direction": "horizontal", "columns": 4, "title": null, "symbolType": "stroke", "symbolSize": 729, "symbolStrokeWidth": 3, "symbolOffset": 12, "labelExpr": "[datum.label, 'Correlation']", "labelFont": "Roboto", "labelFontSize": 16, "labelBaseline": "bottom", "labelColor": "#333333", "labelLimit": 300, "labelOffset": 6, "strokeColor": "#c4c4c4", "cornerRadius": 8, "padding": 9, "fillColor": "white", "columnPadding": 10}},
  "strokeWidth": {"value": 1.1}
 }},
{"data": {"name": "b08"}, "title": "λ = 0.8, deg(f_s) = 4, deg(f_c) = 10", "width": 286, "height": 117,
 "mark": {"type": "line", "clip": true},
 "encoding": {
  "x": {"field": "x", "type": "quantitative", "scale": {"type": "log", "domain": [0.76, 2100], "nice": false}, "axis": {"values": [1, 10, 100, 1000], "labelExpr": "datum.value == 1 ? '10⁰' : datum.value == 10 ? '10¹' : datum.value == 100 ? '10²' : '10³'", "title": "Epochs", "titleX": 288, "titleY": 32, "titleAlign": "center", "titleBaseline": "middle"}},
  "y": {"field": "y", "type": "quantitative", "scale": {"domain": [-0.005, 1.01], "nice": false, "zero": false}, "axis": {"values": [0, 0.5, 1], "format": ".1f", "title": null}},
  "color": {"field": "s", "type": "nominal", "scale": {"domain": ["Core", "Decoded core", "Spurious", "Decoded spurious"], "range": ["#8a2b70", "#ef6a5e", "#1d6a8b", "#4fa488"]}, "legend": {"orient": "none", "legendX": 293, "legendY": 454, "direction": "horizontal", "columns": 4, "title": null, "symbolType": "stroke", "symbolSize": 729, "symbolStrokeWidth": 3, "symbolOffset": 12, "labelExpr": "[datum.label, 'Correlation']", "labelFont": "Roboto", "labelFontSize": 16, "labelBaseline": "bottom", "labelColor": "#333333", "labelLimit": 300, "labelOffset": 6, "strokeColor": "#c4c4c4", "cornerRadius": 8, "padding": 9, "fillColor": "white", "columnPadding": 10}},
  "strokeWidth": {"value": 1.1}
 }},
{"data": {"name": "b09"}, "title": "λ = 0.9, deg(f_s) = 4, deg(f_c) = 10", "width": 286, "height": 117,
 "mark": {"type": "line", "clip": true},
 "encoding": {
  "x": {"field": "x", "type": "quantitative", "scale": {"type": "log", "domain": [0.76, 2100], "nice": false}, "axis": {"values": [1, 10, 100, 1000], "labelExpr": "datum.value == 1 ? '10⁰' : datum.value == 10 ? '10¹' : datum.value == 100 ? '10²' : '10³'", "title": null}},
  "y": {"field": "y", "type": "quantitative", "scale": {"domain": [-0.005, 1.01], "nice": false, "zero": false}, "axis": {"values": [0, 0.5, 1], "format": ".1f", "title": null}},
  "color": {"field": "s", "type": "nominal", "scale": {"domain": ["Core", "Decoded core", "Spurious", "Decoded spurious"], "range": ["#8a2b70", "#ef6a5e", "#1d6a8b", "#4fa488"]}, "legend": {"orient": "none", "legendX": 293, "legendY": 454, "direction": "horizontal", "columns": 4, "title": null, "symbolType": "stroke", "symbolSize": 729, "symbolStrokeWidth": 3, "symbolOffset": 12, "labelExpr": "[datum.label, 'Correlation']", "labelFont": "Roboto", "labelFontSize": 16, "labelBaseline": "bottom", "labelColor": "#333333", "labelLimit": 300, "labelOffset": 6, "strokeColor": "#c4c4c4", "cornerRadius": 8, "padding": 9, "fillColor": "white", "columnPadding": 10}},
  "strokeWidth": {"value": 1.1}
 }},
{"data": {"name": "b095"}, "title": "λ = 0.95, deg(f_s) = 4, deg(f_c) = 10", "width": 286, "height": 117,
 "mark": {"type": "line", "clip": true},
 "encoding": {
  "x": {"field": "x", "type": "quantitative", "scale": {"type": "log", "domain": [0.76, 2100], "nice": false}, "axis": {"values": [1, 10, 100, 1000], "labelExpr": "datum.value == 1 ? '10⁰' : datum.value == 10 ? '10¹' : datum.value == 100 ? '10²' : '10³'", "title": null}},
  "y": {"field": "y", "type": "quantitative", "scale": {"domain": [-0.005, 1.01], "nice": false, "zero": false}, "axis": {"values": [0, 0.5, 1], "format": ".1f", "title": null}},
  "color": {"field": "s", "type": "nominal", "scale": {"domain": ["Core", "Decoded core", "Spurious", "Decoded spurious"], "range": ["#8a2b70", "#ef6a5e", "#1d6a8b", "#4fa488"]}, "legend": {"orient": "none", "legendX": 293, "legendY": 454, "direction": "horizontal", "columns": 4, "title": null, "symbolType": "stroke", "symbolSize": 729, "symbolStrokeWidth": 3, "symbolOffset": 12, "labelExpr": "[datum.label, 'Correlation']", "labelFont": "Roboto", "labelFontSize": 16, "labelBaseline": "bottom", "labelColor": "#333333", "labelLimit": 300, "labelOffset": 6, "strokeColor": "#c4c4c4", "cornerRadius": 8, "padding": 9, "fillColor": "white", "columnPadding": 10}},
  "strokeWidth": {"value": 1.1}
 }}
]
}
],
"spacing": 37,
"config": {
 "font": "Liberation Sans",
 "view": {"stroke": "#e6e6e6", "strokeWidth": 1},
 "axis": {"grid": true, "gridColor": "#e8e8e8", "gridWidth": 1, "domain": false, "ticks": false, "labelFont": "Liberation Sans", "labelFontSize": 17, "labelColor": "#262626", "labelPadding": 4, "titleFont": "Liberation Sans", "titleFontSize": 17, "titleFontWeight": "normal", "titleColor": "#262626", "titlePadding": 4},
 "title": {"font": "Liberation Sans", "fontSize": 18, "fontWeight": "normal", "color": "#262626", "offset": -5}
}
}
